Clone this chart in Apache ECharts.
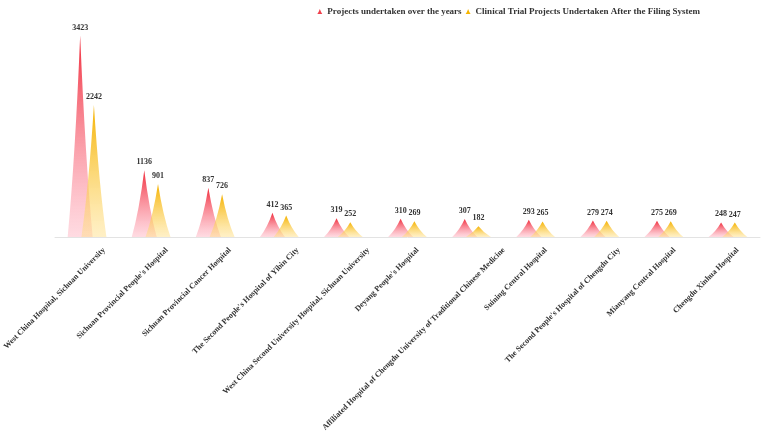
<!DOCTYPE html>
<html>
<head>
<meta charset="utf-8">
<script src="https://cdn.jsdelivr.net/npm/echarts@6/dist/echarts.min.js"></script>
<style>
  html, body { margin: 0; padding: 0; background: #fff; }
  #chart1 { width: 767px; height: 436px; }
</style>
</head>
<body>
<div id="chart1"></div>
<script>
// hospitals and project counts
var hospitals = [
    'West China Hospital, Sichuan University',
    "Sichuan Provincial People's Hospital",
    'Sichuan Provincial Cancer Hospital',
    "The Second People's Hospital of Yibin City",
    'West China Second University Hospital, Sichuan University',
    "Deyang People's Hospital",
    'Affiliated Hospital of Chengdu University of Traditional Chinese Medicine',
    'Suining Central Hospital',
    "The Second People's Hospital of Chengdu City",
    'Mianyang Central Hospital',
    'Chengdu Xinhua Hospital'
];
var seriesNames = ['Projects undertaken over the years', 'Clinical Trial Projects Undertaken After the Filing System'];
var allYears = [3423, 1136, 837, 412, 319, 310, 307, 293, 279, 275, 248];
var afterFiling = [2242, 901, 726, 365, 252, 269, 182, 265, 274, 269, 247];

// spike shape, slightly concave sides
var spike = 'path://M0,10 L10,10 Q7,6 5,0 Q3,6 0,10 z';
var fontName = '"Liberation Serif", "Times New Roman", serif';

var _chart1 = null;
function initChart1() {
    _chart1 = echarts.init(document.getElementById('chart1'));

    function grad(top, bottom) {
        return new echarts.graphic.LinearGradient(0, 0, 0, 1, [
            { offset: 0, color: top },
            { offset: 1, color: bottom }
        ]);
    }

    // in the original the longer names sit further right of their tick,
    // so nudge each rotated label along / across its own direction
    var axisItems = [];
    for (var i = 0; i < hospitals.length; i++) {
        var sx = 1.5 + 0.45 * hospitals[i].length - 4.9;
        var sy = 1.1;
        var down = Math.max(0, (sx + sy) / 1.414);
        var fwd = (sx - sy) / 1.414;
        axisItems.push({
            value: hospitals[i],
            textStyle: {
                verticalAlign: 'top',
                padding: [down, -fwd, 0, 0]
            }
        });
    }

    var option = {
        animation: false,
        legend: {
            top: 2,
            right: 62,
            itemWidth: 5,
            itemHeight: 7,
            itemGap: 4,
            textStyle: { fontFamily: fontName, fontWeight: 'bold', fontSize: 9, color: '#333' },
            data: [
                { name: seriesNames[0], icon: spike, itemStyle: { color: '#f0404c' } },
                { name: seriesNames[1], icon: spike, itemStyle: { color: '#f6b500' } }
            ]
        },
        grid: {
            left: 55,
            right: 7,
            top: 31,
            bottom: 199,
            outerBoundsMode: 'none',
            containLabel: false
        },
        xAxis: {
            type: 'category',
            data: axisItems,
            axisTick: { show: false },
            axisLine: { lineStyle: { color: '#e3e3e3' } },
            axisLabel: {
                interval: 0,
                rotate: 45,
                margin: 8,
                verticalAlign: 'top',
                fontFamily: fontName,
                fontWeight: 'bold',
                fontSize: 8,
                color: '#333'
            }
        },
        yAxis: {
            type: 'value',
            min: 0,
            max: 3500,
            show: false,
            splitLine: { show: false }
        },
        series: [
            {
                name: seriesNames[0],
                type: 'pictorialBar',
                symbol: spike,
                symbolSize: [25, '100%'],
                barWidth: 25,
                barGap: '-45%',
                z: 2,
                itemStyle: {
                    color: grad('rgba(240,45,60,1)', 'rgba(255,175,190,0.45)')
                },
                label: {
                    show: true,
                    position: 'top',
                    distance: 4,
                    fontFamily: fontName,
                    fontWeight: 'bold',
                    fontSize: 8,
                    color: '#333'
                },
                data: allYears
            },
            {
                name: seriesNames[1],
                type: 'pictorialBar',
                symbol: spike,
                symbolSize: [25, '100%'],
                barWidth: 25,
                barGap: '-45%',
                z: 3,
                itemStyle: {
                    color: grad('rgba(245,178,0,1)', 'rgba(255,222,130,0.45)')
                },
                label: {
                    show: true,
                    position: 'top',
                    distance: 4,
                    fontFamily: fontName,
                    fontWeight: 'bold',
                    fontSize: 8,
                    color: '#333'
                },
                data: afterFiling
            }
        ]
    };

    _chart1.setOption(option);
}
initChart1();
</script>
</body>
</html>
